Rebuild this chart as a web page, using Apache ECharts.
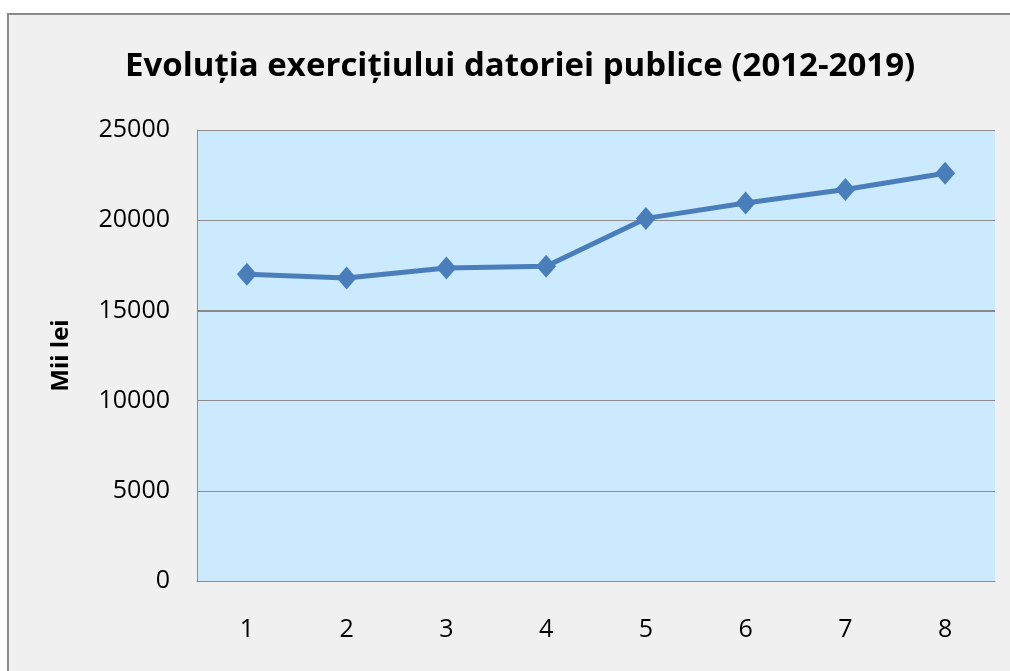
<!DOCTYPE html>
<html>
<head>
<meta charset="utf-8">
<script src="https://cdn.jsdelivr.net/npm/echarts@6/dist/echarts.min.js"></script>
<style>
  html, body { margin: 0; padding: 0; width: 1010px; height: 671px; overflow: hidden; background: #fff; }
  .frame {
    position: absolute; left: 7px; top: 13px; width: 1003px; height: 658px;
    border-left: 2px solid #8a8a8a; border-top: 2px solid #8a8a8a; background: #f0f0f0;
    box-sizing: border-box;
  }
  #chart { position: absolute; left: 0; top: 0; width: 1010px; height: 671px; }
</style>
</head>
<body>
<div class="frame"></div>
<div id="chart"></div>
<script>
const categories = ['1', '2', '3', '4', '5', '6', '7', '8'];
const values = [17000, 16800, 17350, 17450, 20100, 20950, 21700, 22600];
const titleText = 'Evoluția exercițiului datoriei publice (2012-2019)';
const yName = 'Mii lei';

const fontFamily = '"Open Sans", "DejaVu Sans", sans-serif';
const chart = echarts.init(document.getElementById('chart'));

chart.setOption({
  backgroundColor: 'transparent',
  animation: false,
  title: {
    text: titleText,
    left: 120,
    top: 45,
    textStyle: { fontFamily, fontSize: 33, fontWeight: 'bold', color: '#000' },
  },
  grid: {
    left: 197,
    right: 15,
    top: 130,
    bottom: 90,
    show: true,
    backgroundColor: '#cbeafd',
    borderWidth: 0,
  },
  xAxis: {
    type: 'category',
    data: categories,
    boundaryGap: true,
    axisLine: { lineStyle: { color: '#8c8c8c', width: 1 } },
    axisTick: { show: false },
    axisLabel: { fontFamily, fontSize: 25, color: '#000', margin: 36 },
  },
  yAxis: {
    type: 'value',
    min: 0,
    max: 25000,
    interval: 5000,
    name: yName,
    nameLocation: 'middle',
    nameGap: 124,
    nameTextStyle: { fontFamily, fontSize: 24, fontWeight: 'bold', color: '#000' },
    axisLine: { show: true, lineStyle: { color: '#8c8c8c', width: 1 } },
    axisTick: { show: false },
    axisLabel: {
      fontFamily, fontSize: 25, color: '#000', margin: 27,
      formatter: (v) => String(v),
    },
    splitLine: { lineStyle: { color: '#8c8c8c', width: 1 } },
  },
  series: [
    {
      type: 'line',
      data: values,
      symbol: 'diamond',
      symbolSize: [20, 23],
      lineStyle: { color: '#4a7ebb', width: 5 },
      itemStyle: { color: '#4a7ebb' },
      markLine: {
        silent: true,
        symbol: 'none',
        label: { show: false },
        lineStyle: { color: '#888', width: 2, type: 'solid' },
        data: [{ yAxis: 15000 }],
        z: 1,
      },
    },
  ],
});
</script>
</body>
</html>
